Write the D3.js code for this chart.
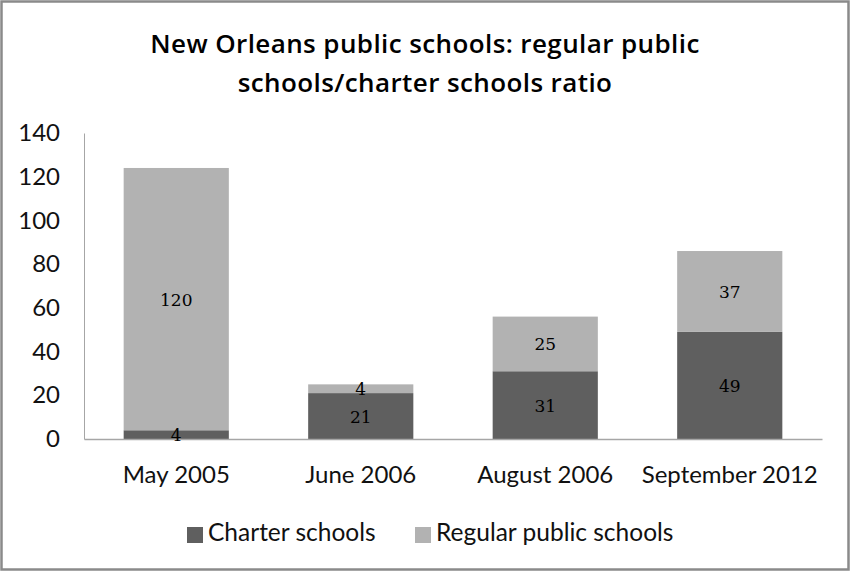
<!DOCTYPE html>
<html><head><meta charset="utf-8">
<script src="https://cdn.jsdelivr.net/npm/d3@7"></script>
<style>body{margin:0;background:#fff}svg{display:block}</style>
</head><body>
<svg id="c" width="850" height="571"></svg>
<script>
const categories = ["May 2005", "June 2006", "August 2006", "September 2012"];
const charter = [4, 21, 31, 49];
const regular = [120, 4, 25, 37];
const seriesNames = ["Charter schools", "Regular public schools"];
const yTicks = [0, 20, 40, 60, 80, 100, 120, 140];
const titleLines = ["New Orleans public schools: regular public", "schools/charter schools ratio"];

const colors = {"Charter schools": "#5f5f5f", "Regular public schools": "#b2b2b2"};
const svg = d3.select("#c");
const W = 850, H = 571;
const m = {left: 84, right: 28, top: 133, bottom: 132};

svg.append("rect").attr("x", 1.5).attr("y", 1.5).attr("width", W - 3).attr("height", H - 3)
  .attr("fill", "#fff").attr("stroke", "#8a8a8a").attr("stroke-width", 2.5);

const table = categories.map((c, i) => ({cat: c, "Charter schools": charter[i], "Regular public schools": regular[i]}));
const stack = d3.stack().keys(seriesNames)(table);

const x = d3.scaleBand().domain(categories).range([m.left, W - m.right]).paddingInner(0.43).paddingOuter(0.215);
const y = d3.scaleLinear().domain([0, 140]).range([H - m.bottom, m.top]);

// title
svg.append("g").selectAll("text").data(titleLines).join("text")
  .attr("x", 425).attr("y", (d, i) => 53 + i * 39)
  .attr("text-anchor", "middle").attr("font-family", "Open Sans").attr("font-weight", 600)
  .attr("font-size", 26).attr("letter-spacing", 0.4).attr("fill", "#000").text(d => d);

// bars
const g = svg.append("g");
stack.forEach(s => {
  g.append("g").selectAll("rect").data(s).join("rect")
    .attr("x", d => x(d.data.cat)).attr("width", x.bandwidth())
    .attr("y", d => y(d[1])).attr("height", d => y(d[0]) - y(d[1]))
    .attr("fill", colors[s.key]);
});

// axes
const yAxis = d3.axisLeft(y).tickValues(yTicks).tickSize(0).tickPadding(24);
const ya = svg.append("g").attr("transform", `translate(${m.left},0)`).call(yAxis);
ya.select(".domain").attr("stroke", "#a6a6a6").attr("stroke-width", 1);
ya.selectAll("text").attr("font-family", "Lato").attr("font-size", 24).attr("fill", "#111");

const xAxis = d3.axisBottom(x).tickSize(0).tickPadding(27);
const xa = svg.append("g").attr("transform", `translate(0,${H - m.bottom})`).call(xAxis);
xa.select(".domain").attr("stroke", "#a6a6a6").attr("stroke-width", 1.5);
xa.selectAll("text").attr("font-family", "Lato").attr("font-size", 24).attr("fill", "#111");

// data labels
stack.forEach(s => {
  svg.append("g").selectAll("text").data(s).join("text")
    .attr("x", d => x(d.data.cat) + x.bandwidth() / 2)
    .attr("y", d => (y(d[0]) + y(d[1])) / 2 + 2)
    .attr("text-anchor", "middle").attr("dominant-baseline", "middle")
    .attr("font-family", "DejaVu Serif").attr("font-size", 17).attr("fill", "#000")
    .text(d => d[1] - d[0]);
});

// legend
const legX = [187, 415];
const leg = svg.append("g").selectAll("g").data(seriesNames).join("g")
  .attr("transform", (d, i) => `translate(${legX[i]},527)`);
leg.append("rect").attr("width", 16).attr("height", 16).attr("fill", d => colors[d]);
leg.append("text").attr("x", 21).attr("y", 8).attr("dominant-baseline", "middle")
  .attr("font-family", "Lato").attr("font-size", 24.5).attr("fill", "#111").text(d => d);
</script>
</body></html>
